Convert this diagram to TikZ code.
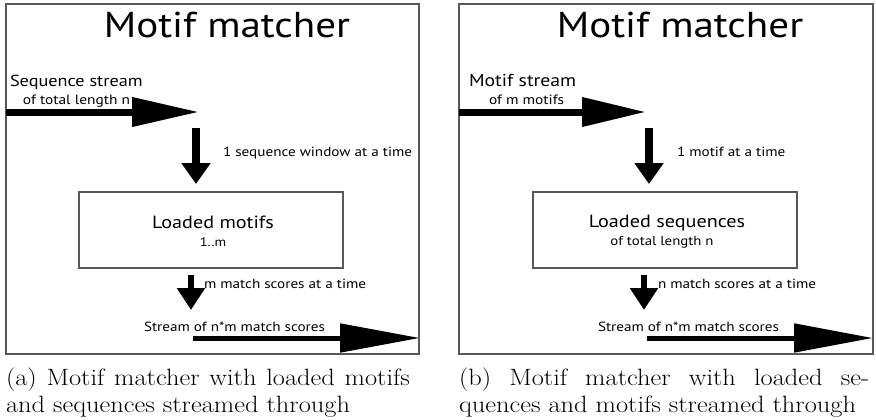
\documentclass[tikz,border=0pt]{standalone}
\usepackage{fontspec}
\newfontfamily\myr[FakeStretch=1.14]{PT Sans}
\newfontfamily\capfont[FakeStretch=1.12]{Latin Modern Roman}
\usetikzlibrary{arrows.meta}
\newcommand{\fs}[1]{\fontsize{#1}{#1}\selectfont}
\tikzset{
  x=1pt, y=-1pt,
  frame/.style={draw=black!65, line width=1.3pt},
  txt/.style={inner sep=0pt, outer sep=0pt, anchor=base west, font=\myr},
  ctxt/.style={inner sep=0pt, outer sep=0pt, anchor=base, font=\myr},
  captxt/.style={inner sep=0pt, outer sep=0pt, anchor=base west, font=\capfont\fs{23.6}},
  bigarrow/.style={line width=7pt, -{Triangle[length=#1, width=28pt]}},
  medarrow/.style={line width=8pt, -{Triangle[length=21pt, width=28pt]}},
  smallarrow/.style={line width=6pt, -{Triangle[length=22pt, width=27pt]}},
  outarrow/.style={line width=5pt, -{Triangle[length=#1, width=28pt]}},
}
\begin{document}
\begin{tikzpicture}
\useasboundingbox (0,0) rectangle (876,420);
% ---------- panel (a)
\draw[frame] (6,4) rectangle (419,354);
\node[frame, minimum width=264pt, minimum height=76pt, inner sep=0pt] (boxa) at (211,230) {};
\node[ctxt, font=\myr\fs{36}] (titlea) at (227,38) {Motif matcher};
\node[txt, font=\myr\fs{16}] (ina1) at (10,87) {Sequence stream};
\node[txt, font=\myr\fs{13.5}] (ina2) at (23,105) {of total length n};
\coordinate (a1s) at (6,112);
\coordinate (a1e) at (199,112);
\draw[bigarrow=67pt] (a1s) -- (a1e);
\coordinate (a2s) at (196,128);
\coordinate (a2e) at (196,184);
\draw[medarrow] (a2s) -- (a2e);
\node[txt, font=\myr\fs{13.3}] (wina) at (223,156) {1 sequence window at a time};
\node[ctxt, font=\myr\fs{17.7}] (loada) at (213,228) {Loaded motifs};
\node[ctxt, font=\myr\fs{12.5}] (loada2) at (213,246) {1..m};
\coordinate (a3s) at (191,275);
\coordinate (a3e) at (191,310);
\draw[smallarrow] (a3s) -- (a3e);
\node[txt, font=\myr\fs{13.3}] (scorea) at (204,288) {m match scores at a time};
\node[txt, font=\myr\fs{13.3}] (streama) at (144,331) {Stream of n*m match scores};
\coordinate (a4s) at (193,338);
\coordinate (a4e) at (420,338);
\draw[outarrow=80pt] (a4s) -- (a4e);
\node[captxt] (capa1) at (6,385) {\makebox[404pt][s]{(a) Motif matcher with loaded motifs}};
\node[captxt] (capa2) at (6,412) {and sequences streamed through};
% ---------- panel (b)
\draw[frame] (459,4) rectangle (873,354);
\node[frame, minimum width=264pt, minimum height=76pt, inner sep=0pt] (boxb) at (665,230) {};
\node[ctxt, font=\myr\fs{36}] (titleb) at (680,38) {Motif matcher};
\node[txt, font=\myr\fs{17.3}] (inb1) at (469,87) {Motif stream};
\node[txt, font=\myr\fs{13.5}] (inb2) at (489,105) {of m motifs};
\coordinate (b1s) at (459,112);
\coordinate (b1e) at (646,112);
\draw[bigarrow=64pt] (b1s) -- (b1e);
\coordinate (b2s) at (649,128);
\coordinate (b2e) at (649,184);
\draw[medarrow] (b2s) -- (b2e);
\node[txt, font=\myr\fs{13.3}] (winb) at (677,156) {1 motif at a time};
\node[ctxt, font=\myr\fs{17.7}] (loadb) at (667,227) {Loaded sequences};
\node[ctxt, font=\myr\fs{13}] (loadb2) at (662,245) {of total length n};
\coordinate (b3s) at (644,275);
\coordinate (b3e) at (644,310);
\draw[smallarrow] (b3s) -- (b3e);
\node[txt, font=\myr\fs{13.3}] (scoreb) at (658,288) {n match scores at a time};
\node[txt, font=\myr\fs{13.3}] (streamb) at (598,331) {Stream of n*m match scores};
\coordinate (b4s) at (647,338);
\coordinate (b4e) at (873,338);
\draw[outarrow=79pt] (b4s) -- (b4e);
\node[captxt] (capb1) at (459,385) {\makebox[410pt][s]{(b) Motif matcher with loaded se-}};
\node[captxt] (capb2) at (459,412) {quences and motifs streamed through};
\end{tikzpicture}
\end{document}
